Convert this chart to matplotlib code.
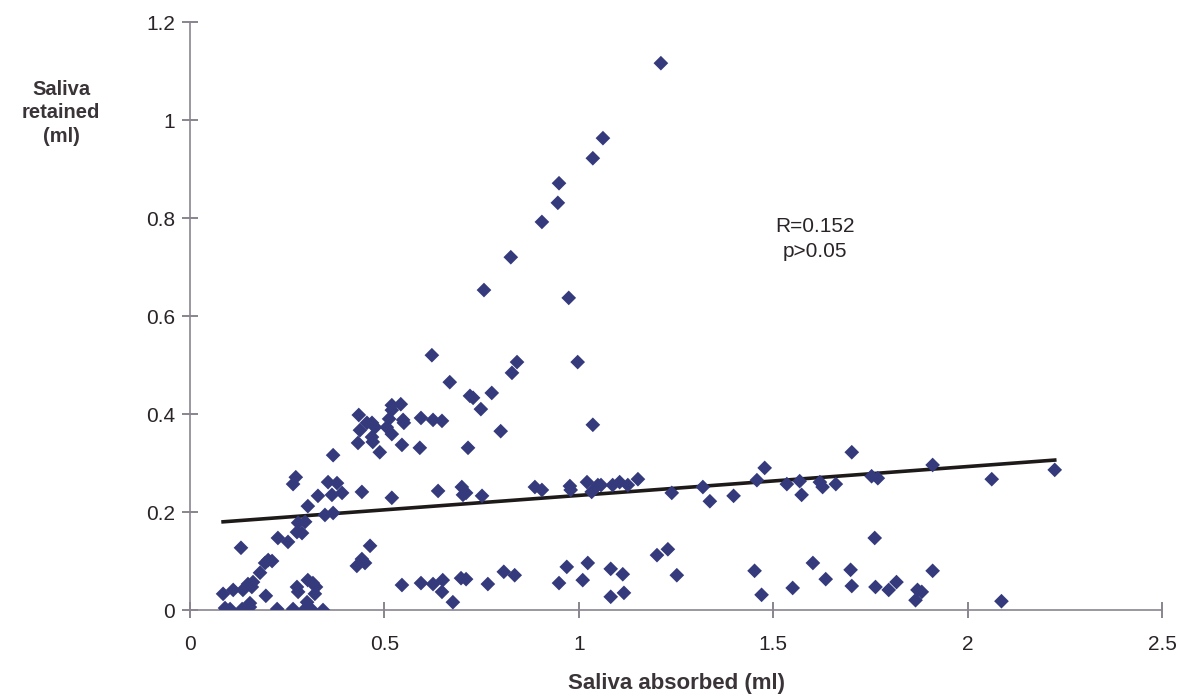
import numpy as np
import matplotlib.pyplot as plt

plt.rcParams['font.family'] = ['Liberation Sans', 'DejaVu Sans']

# saliva absorbed (ml) / saliva retained (ml), one pair per subject
absorbed = [
    1.211, 1.062, 1.036, 0.949, 0.946, 0.905, 0.825, 0.756, 0.974, 0.841,
    0.828, 0.997, 0.622, 0.668, 0.720, 0.728, 0.776, 0.748, 0.799, 1.036,
    0.519, 0.542, 0.519, 0.512, 0.506, 0.548, 0.550, 0.594, 0.625, 0.648,
    0.519, 0.545, 0.591, 0.715, 0.488, 0.434, 0.455, 0.468, 0.476, 0.437,
    0.432, 0.468, 0.470, 0.368, 0.272, 0.265, 0.355, 0.378, 0.329, 0.365,
    0.391, 0.442, 0.303, 0.368, 0.347, 0.278, 0.296, 0.275, 0.288, 0.226,
    0.252, 0.131, 0.463, 0.442, 0.450, 0.429, 0.201, 0.211, 0.193, 0.180,
    0.162, 0.149, 0.111, 0.136, 0.159, 0.085, 0.195, 0.275, 0.278, 0.303,
    0.316, 0.324, 0.321, 0.301, 0.090, 0.103, 0.134, 0.154, 0.224, 0.265,
    0.296, 0.314, 0.342, 0.154, 0.519, 0.638, 0.699, 0.702, 0.710, 0.751,
    0.887, 0.905, 0.977, 0.979, 1.021, 1.033, 1.049, 0.545, 0.594, 0.625,
    0.650, 0.648, 0.676, 0.697, 0.710, 0.766, 0.807, 0.835, 0.949, 0.969,
    1.010, 1.023, 1.057, 1.087, 1.105, 1.126, 1.152, 1.239, 1.319, 1.337,
    1.398, 1.458, 1.478, 1.535, 1.568, 1.573, 1.620, 1.627, 1.661, 1.702,
    1.753, 1.769, 1.910, 2.062, 2.224, 1.082, 1.113, 1.082, 1.116, 1.201,
    1.229, 1.252, 1.452, 1.470, 1.550, 1.602, 1.635, 1.699, 1.702, 1.761,
    1.763, 1.797, 1.817, 1.866, 1.871, 1.882, 1.910, 2.087,
]
retained = [
    1.116, 0.963, 0.922, 0.871, 0.831, 0.792, 0.720, 0.653, 0.637, 0.506,
    0.484, 0.506, 0.520, 0.465, 0.437, 0.433, 0.443, 0.410, 0.365, 0.378,
    0.418, 0.420, 0.408, 0.390, 0.373, 0.388, 0.382, 0.392, 0.388, 0.386,
    0.359, 0.337, 0.331, 0.331, 0.322, 0.398, 0.382, 0.382, 0.373, 0.367,
    0.341, 0.353, 0.343, 0.316, 0.271, 0.257, 0.261, 0.259, 0.233, 0.235,
    0.239, 0.241, 0.212, 0.198, 0.194, 0.178, 0.180, 0.159, 0.157, 0.147,
    0.139, 0.127, 0.131, 0.104, 0.096, 0.090, 0.102, 0.100, 0.096, 0.076,
    0.057, 0.053, 0.041, 0.041, 0.047, 0.033, 0.029, 0.047, 0.037, 0.061,
    0.055, 0.047, 0.033, 0.016, 0.004, 0.002, 0.002, 0.006, 0.002, 0.002,
    0.002, 0.000, 0.000, 0.014, 0.229, 0.243, 0.251, 0.235, 0.239, 0.233,
    0.251, 0.245, 0.253, 0.245, 0.261, 0.241, 0.255, 0.051, 0.055, 0.053,
    0.061, 0.037, 0.016, 0.065, 0.063, 0.053, 0.078, 0.071, 0.055, 0.088,
    0.061, 0.096, 0.255, 0.255, 0.261, 0.255, 0.267, 0.239, 0.251, 0.222,
    0.233, 0.265, 0.290, 0.257, 0.263, 0.235, 0.261, 0.251, 0.257, 0.322,
    0.273, 0.269, 0.296, 0.267, 0.286, 0.084, 0.073, 0.027, 0.035, 0.112,
    0.124, 0.071, 0.080, 0.031, 0.045, 0.096, 0.063, 0.082, 0.049, 0.147,
    0.047, 0.041, 0.057, 0.020, 0.041, 0.037, 0.080, 0.018,
]

# linear trend line
slope = 0.0589
intercept = 0.175

x_ticks = [0, 0.5, 1, 1.5, 2, 2.5]
x_tick_labels = ['0', '0.5', '1', '1.5', '2', '2.5']
y_ticks = [0, 0.2, 0.4, 0.6, 0.8, 1.0, 1.2]
y_tick_labels = ['0', '0.2', '0.4', '0.6', '0.8', '1', '1.2']

fig = plt.figure(figsize=(11.9, 6.99), dpi=100, facecolor='white')
ax = fig.add_axes([0.1597, 0.1273, 0.8168, 0.8412])

ax.scatter(absorbed, retained, marker='D', s=56, color='#343a7c',
           edgecolors='none', zorder=3)

xs = np.array([min(absorbed), max(absorbed)])
ax.plot(xs, intercept + slope * xs, color='#1e1a1a', lw=2.6, zorder=2)

ax.set_xlim(0, 2.5)
ax.set_ylim(0, 1.2)
ax.set_xticks(x_ticks)
ax.set_xticklabels(x_tick_labels)
ax.set_yticks(y_ticks)
ax.set_yticklabels(y_tick_labels)

for s in ['top', 'right']:
    ax.spines[s].set_visible(False)
for s in ['left', 'bottom']:
    ax.spines[s].set_color('#8a8590')
    ax.spines[s].set_linewidth(1.2)

ax.tick_params(axis='both', direction='inout', length=12, width=1.1,
               color='#6a6570', labelsize=15, labelcolor='#2a2428')
ax.tick_params(axis='x', pad=12)
ax.tick_params(axis='y', pad=5)

ax.text(1.607, 0.757, 'R=0.152\np>0.05', ha='center', va='center',
        fontsize=15, color='#2a2428', linespacing=1.45)

fig.text(61 / 1190, 1 - 113 / 699, 'Saliva\nretained\n(ml)', ha='center',
         va='center', fontsize=14.5, fontweight='bold', color='#3a3438',
         linespacing=1.27)
fig.text(676 / 1190, 1 - 684 / 699, 'Saliva absorbed (ml)', ha='center',
         va='center', fontsize=16, fontweight='bold', color='#3a3438')

plt.savefig('out.png', dpi=100, facecolor='white')
